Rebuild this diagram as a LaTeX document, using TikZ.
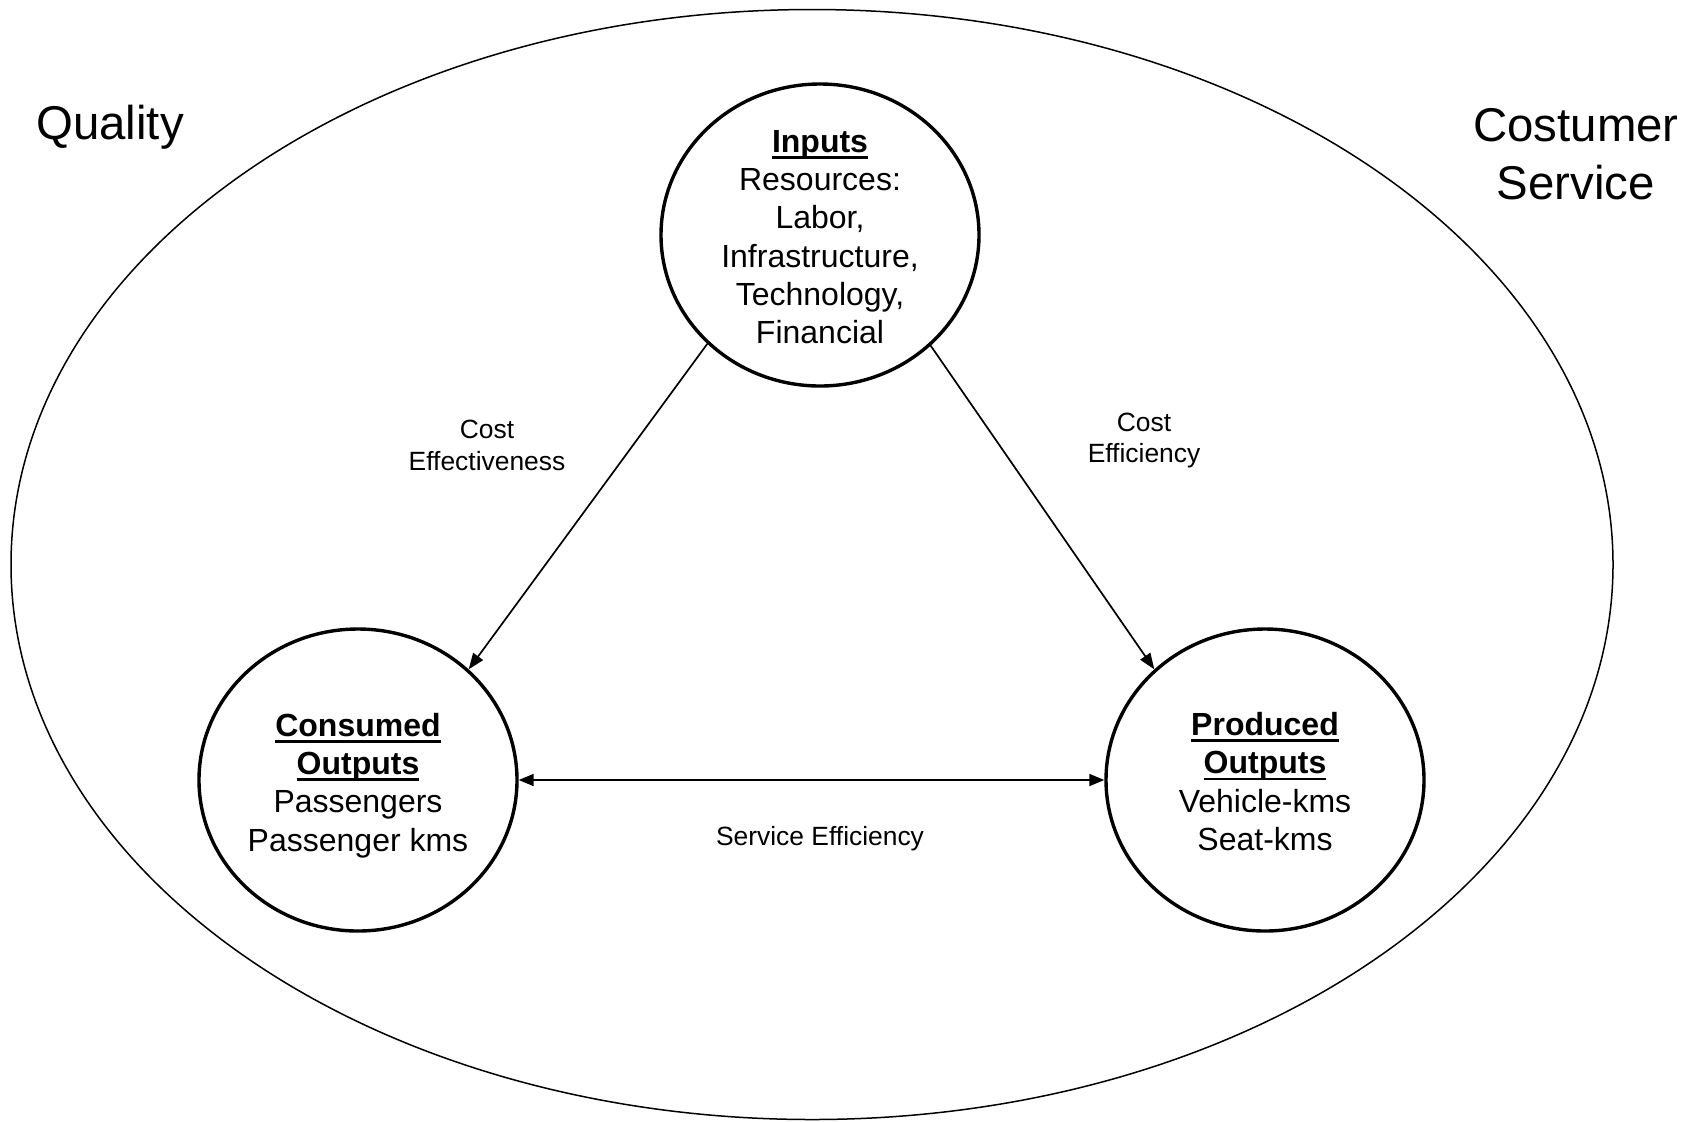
\documentclass[tikz,border=0pt]{standalone}
\usepackage{fontspec}
\setmainfont{Liberation Sans}
\newsavebox\myulbox
\newcommand\myul[1]{\sbox\myulbox{#1}\leavevmode\rlap{\rule[-3.2pt]{\wd\myulbox}{1.3pt}}\usebox\myulbox}
\usetikzlibrary{shapes.geometric,arrows.meta}
\begin{document}
\begin{tikzpicture}[x=0.5pt,y=-0.5pt,
  circ/.style={draw,ellipse,line width=1.7pt,inner sep=0pt,minimum width=159pt,minimum height=151pt},
  body/.style={align=center,font=\fontsize{16}{19.15}\selectfont,inner sep=0pt},
  big/.style={align=center,font=\fontsize{23.7}{28.7}\selectfont,inner sep=0pt},
  small/.style={align=center,font=\fontsize{13.2}{15.7}\selectfont,inner sep=0pt},
  conn/.style={line width=0.85pt,-{Triangle[length=8pt,width=6pt]}},
  dconn/.style={line width=0.85pt,{Triangle[length=7.5pt,width=6pt]}-{Triangle[length=7.5pt,width=6pt]}}]
\useasboundingbox (0,0) rectangle (1696,1121);
\node[draw,ellipse,line width=0.75pt,minimum width=801pt,minimum height=555pt,inner sep=0pt] (outer) at (812,564.5) {};
\node[circ] (in) at (820,235) {};
\node[circ] (co) at (358,780) {};
\node[circ] (po) at (1265,780) {};
\node[body] (intext) at (820,237) {\myul{\textbf{Inputs}}\\Resources:\\Labor,\\Infrastructure,\\Technology,\\Financial};
\node[body] (cotext) at (358,785.5) {\myul{\textbf{Consumed}}\\\myul{\textbf{Outputs}}\\Passengers\\Passenger kms};
\node[body] (potext) at (1265,781.5) {\myul{\textbf{Produced}}\\\myul{\textbf{Outputs}}\\Vehicle-kms\\Seat-kms};
\node[big] (quality) at (110,127.5) {Quality};
\node[big] (service) at (1576,154) {Costumer\\Service};
\node[small] (ceff) at (487,445.5) {Cost\\Effectiveness};
\node[small] (cef) at (1144,440.5) {Cost\\Efficiency};
\node[small] (sef) at (820,839) {Service Efficiency};
\draw[conn] (in.224) -- (co.45);
\draw[conn] (in.-45) -- (po.135);
\draw[dconn] (co.east) -- (po.west);
\end{tikzpicture}
\end{document}
